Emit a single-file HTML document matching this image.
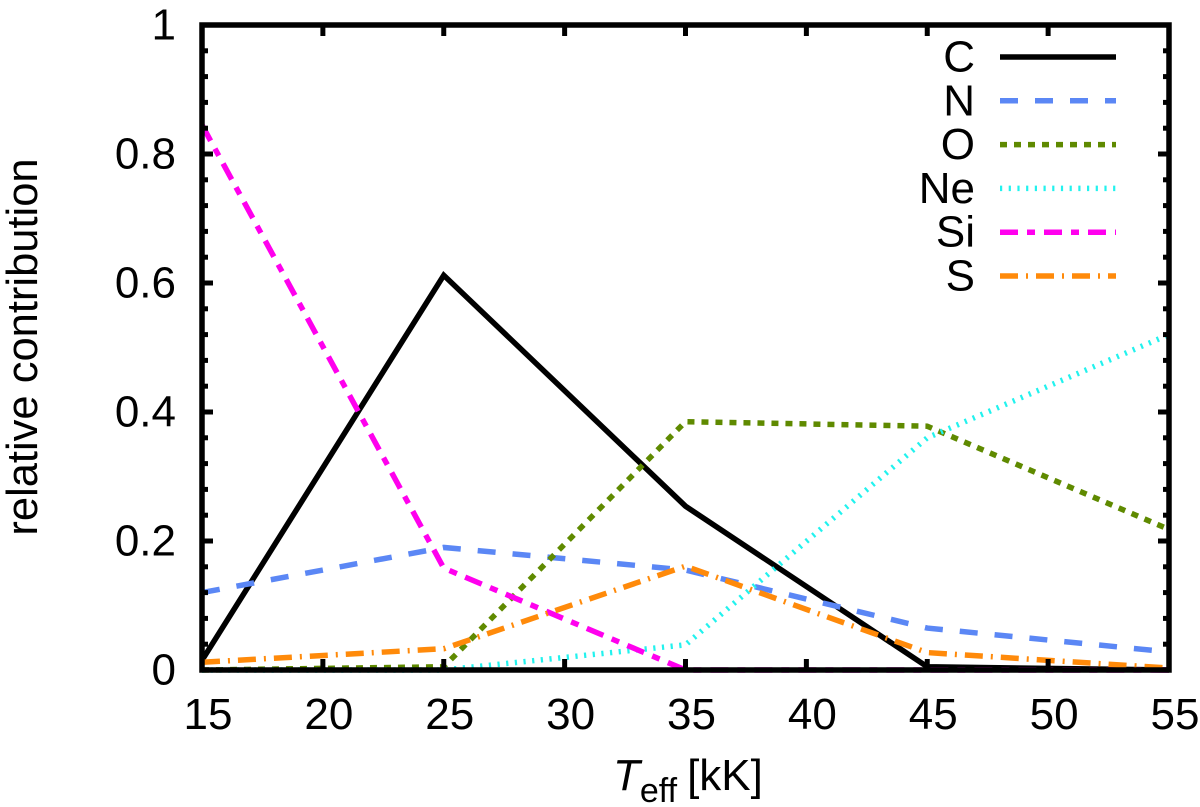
<!DOCTYPE html>
<html lang="en">
<head>
<meta charset="utf-8">
<title>Relative contribution vs effective temperature</title>
<style>
html,body{margin:0;padding:0;background:#fff;}
svg{display:block;}
text{font-family:"Liberation Sans",sans-serif;fill:#000;}
</style>
</head>
<body>
<svg id="chart" width="1200" height="807" viewBox="0 0 1200 807" xmlns="http://www.w3.org/2000/svg">
  <g id="series"></g>
  <g id="axes"></g>
  <g id="legend"></g>
  <text transform="translate(37,347) rotate(-90)" text-anchor="middle" font-size="43.5">relative contribution</text>
  <text x="613" y="790" font-size="44"><tspan font-style="italic">T</tspan><tspan dy="12" font-size="34">eff</tspan><tspan dy="-12" dx="10">[kK]</tspan></text>
</svg>
<script>
const temperatures = [15, 25, 35, 45, 55];
const seriesNames = ['C', 'N', 'O', 'Ne', 'Si', 'S'];
const valuesC = [0.015, 0.612, 0.254, 0.005, 0];
const valuesN = [0.12, 0.19, 0.155, 0.065, 0.028];
const valuesO = [0, 0.005, 0.385, 0.378, 0.218];
const valuesNe = [0, 0, 0.039, 0.36, 0.52];
const valuesSi = [0.845, 0.158, 0, 0, 0];
const valuesS = [0.012, 0.033, 0.161, 0.027, 0.003];
const xTickLabels = [15, 20, 25, 30, 35, 40, 45, 50, 55];
const yTickLabels = [0, 0.2, 0.4, 0.6, 0.8, 1];
const yMinorTicks = [0.04, 0.08, 0.12, 0.16];

const NS = 'http://www.w3.org/2000/svg';
const allValues = [valuesC, valuesN, valuesO, valuesNe, valuesSi, valuesS];
const colors = ['#000000', '#5b87f5', '#5f8a00', '#22f2ee', '#ff00ee', '#ff8a0a'];
const dashes = ['', '18 17', '7 7', '2.2 6.5', '18 9 8 9', '18 8 2 8'];
const plot = {left: 202, right: 1169, top: 25, bottom: 670};
const xScale = v => plot.left + (v - 15) / (55 - 15) * (plot.right - plot.left);
const yScale = v => plot.bottom - v * (plot.bottom - plot.top);
const make = (tag, parent) => {
  const el = document.createElementNS(NS, tag);
  parent.appendChild(el);
  return el;
};
const seriesG = document.getElementById('series');
const axesG = document.getElementById('axes');
const legendG = document.getElementById('legend');

allValues.forEach((vals, i) => {
  const line = make('polyline', seriesG);
  
  
  line.setAttribute('points', vals.map((v, j) => xScale(temperatures[j]) + ',' + yScale(v)).join(' '));
  line.setAttribute('fill', 'none');
  line.setAttribute('stroke', colors[i]);
  line.setAttribute('stroke-width', '5.5');
  line.setAttribute('stroke-linejoin', 'miter');
  if (dashes[i]) line.setAttribute('stroke-dasharray', dashes[i]);
});

const segment = (x1, y1, x2, y2, name) => {
  const t = make('line', axesG);
  
  
  t.setAttribute('x1', x1);
  t.setAttribute('y1', y1);
  t.setAttribute('x2', x2);
  t.setAttribute('y2', y2);
  t.setAttribute('stroke', '#000');
  t.setAttribute('stroke-width', '5');
};

xTickLabels.forEach(v => {
  const x = xScale(v);
  segment(x, plot.bottom, x, plot.bottom - 11, 'x-tick-bottom');
  segment(x, plot.top, x, plot.top + 11, 'x-tick-top');
  const label = make('text', axesG);
  
  
  label.setAttribute('x', x + 6);
  label.setAttribute('y', 729);
  label.setAttribute('text-anchor', 'middle');
  label.setAttribute('font-size', '44');
  label.textContent = v;
});

yTickLabels.forEach(v => {
  const y = yScale(v);
  segment(plot.left, y, plot.left + 11, y, 'y-tick-left');
  segment(plot.right, y, plot.right - 11, y, 'y-tick-right');
  const label = make('text', axesG);
  
  
  label.setAttribute('x', 176);
  label.setAttribute('y', y + 14.5);
  label.setAttribute('text-anchor', 'end');
  label.setAttribute('font-size', '44');
  label.textContent = v;
});

yTickLabels.slice(0, -1).forEach(base => {
  yMinorTicks.forEach(step => {
    const y = yScale(base + step);
    segment(plot.left, y, plot.left + 6, y, 'y-minor-tick-left');
    segment(plot.right, y, plot.right - 6, y, 'y-minor-tick-right');
  });
});

const frame = make('rect', axesG);


frame.setAttribute('x', plot.left);
frame.setAttribute('y', plot.top);
frame.setAttribute('width', plot.right - plot.left);
frame.setAttribute('height', plot.bottom - plot.top);
frame.setAttribute('fill', 'none');
frame.setAttribute('stroke', '#000');
frame.setAttribute('stroke-width', '5.5');

seriesNames.forEach((name, i) => {
  const y = 57 + i * 43.8;
  const label = make('text', legendG);
  
  
  label.setAttribute('x', 975);
  label.setAttribute('y', y + 14.5);
  label.setAttribute('text-anchor', 'end');
  label.setAttribute('font-size', '44');
  label.textContent = name;
  const sample = make('line', legendG);
  
  
  sample.setAttribute('x1', 1000);
  sample.setAttribute('y1', y);
  sample.setAttribute('x2', 1116);
  sample.setAttribute('y2', y);
  sample.setAttribute('stroke', colors[i]);
  sample.setAttribute('stroke-width', '5.5');
  if (dashes[i]) sample.setAttribute('stroke-dasharray', dashes[i]);
});
</script>
</body>
</html>
